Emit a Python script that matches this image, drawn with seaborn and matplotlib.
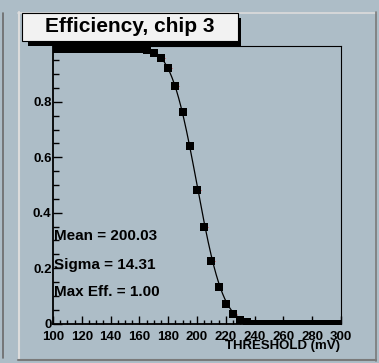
import math
import numpy as np
import matplotlib
matplotlib.use("Agg")
import matplotlib.pyplot as plt
from matplotlib.patches import Rectangle
from matplotlib.lines import Line2D
from matplotlib.ticker import MultipleLocator
import seaborn as sns

# Threshold scan for chip 3: efficiency per threshold step
threshold_mv = [100, 105, 110, 115, 120, 125, 130, 135, 140, 145, 150, 155, 160,
                165, 170, 175, 180, 185, 190, 195, 200, 205, 210, 215, 220, 225,
                230, 235, 240, 245, 250, 255, 260, 265, 270, 275, 280, 285, 290,
                295, 300]
efficiency = [0.99, 0.99, 0.99, 0.99, 0.99, 0.99, 0.99, 0.99, 0.99, 0.99, 0.99, 0.99, 0.99,
              0.988, 0.978, 0.959, 0.924, 0.859, 0.765, 0.639, 0.483, 0.347, 0.224, 0.131,
              0.069, 0.034, 0.013, 0.004, 0.0, 0.0, 0.0, 0.0, 0.0, 0.0, 0.0, 0.0,
              0.0, 0.0, 0.0, 0.0, 0.0]

# Error-function fit parameters
fit_mean = 200.03
fit_sigma = 14.31
fit_max_eff = 1.00

title_text = "Efficiency, chip 3"
x_label = "THRESHOLD (mV)"
x_ticks = [100, 120, 140, 160, 180, 200, 220, 240, 260, 280, 300]
y_ticks = [0, 0.2, 0.4, 0.6, 0.8]
y_tick_labels = ["0", "0.2", "0.4", "0.6", "0.8"]

W, H = 379, 363
BG = "#adbdc7"

sns.set_style("ticks")
plt.rcParams["font.family"] = ["Liberation Sans", "DejaVu Sans"]
plt.rcParams["font.weight"] = "bold"

fig = plt.figure(figsize=(W / 100, H / 100), dpi=100, facecolor=BG)


def fx(x):
    return x / W


def fy(y):
    return 1 - y / H


# plot frame in pixel coordinates (left, top, right, bottom)
L, T, R, B = 53, 46.5, 341, 323.5
ax = fig.add_axes([fx(L), fy(B), (R - L) / W, (B - T) / H])
ax.set_facecolor("none")

# fitted curve
xs = np.linspace(100, 300, 400)
fit = np.array([0.5 * fit_max_eff * math.erfc((v - fit_mean) / (math.sqrt(2) * fit_sigma)) for v in xs])
sns.lineplot(x=xs, y=fit, ax=ax, color="black", linewidth=0.9, zorder=2)

# bin-width error bars and markers
ax.errorbar(threshold_mv, efficiency, xerr=2.5, fmt="none", ecolor="red",
            elinewidth=0.5, capsize=0, zorder=3)
sns.scatterplot(x=threshold_mv, y=efficiency, ax=ax, marker="s", s=28,
                color="black", linewidth=0, zorder=4)

ax.set_xlim(100, 300)
ax.set_ylim(0, 1.0)
ax.set_xticks(x_ticks)
ax.set_xticklabels([str(t) for t in x_ticks])
ax.set_yticks(y_ticks)
ax.set_yticklabels(y_tick_labels)
ax.xaxis.set_minor_locator(MultipleLocator(5))
ax.yaxis.set_minor_locator(MultipleLocator(0.05))
ax.tick_params(axis="both", which="both", direction="in", colors="black",
               labelsize=9.5, width=1.0)
ax.tick_params(axis="x", which="major", length=6, pad=5.5)
ax.tick_params(axis="x", which="minor", length=3)
ax.tick_params(axis="y", which="major", length=6.5, pad=1)
ax.tick_params(axis="y", which="minor", length=4)
ax.tick_params(top=False, right=False, which="both")
for lbl in ax.get_xticklabels() + ax.get_yticklabels():
    lbl.set_fontweight("bold")
ax.set_xlabel("")
ax.set_ylabel("")
for side in ["left", "bottom"]:
    ax.spines[side].set_linewidth(1.3)
for side in ["right", "top"]:
    ax.spines[side].set_linewidth(0.8)
for s in ax.spines.values():
    s.set_color("black")

fig.text(fx(340), fy(346), x_label, ha="right", va="center", fontsize=9.5,
         fontweight="bold", color="black")

# fit statistics
stats = [("Mean = %.2f" % fit_mean, 236.5),
         ("Sigma = %.2f" % fit_sigma, 265),
         ("Max Eff. = %.2f" % fit_max_eff, 292)]
for txt, ypix in stats:
    fig.text(fx(54), fy(ypix), txt, ha="left", va="center", fontsize=11,
             fontweight="bold", color="black", zorder=6)

# pad border
light, dark = "#dcdcdc", "#7a7a7a"
fig.add_artist(Line2D([fx(18), fx(376)], [fy(12.5), fy(12.5)], color=light, lw=1.2))
fig.add_artist(Line2D([fx(18.5), fx(18.5)], [fy(12), fy(360)], color=light, lw=1.5))
fig.add_artist(Line2D([fx(375.5), fx(375.5)], [fy(12), fy(360.5)], color=dark, lw=1.2))
fig.add_artist(Line2D([fx(18), fx(376)], [fy(360), fy(360)], color=dark, lw=1.5))
fig.add_artist(Line2D([fx(2.7), fx(2.7)], [fy(13), fy(358)], color="#6a6a6a", lw=1.2))

# title box with shadow
fig.add_artist(Rectangle((fx(28), fy(46)), fx(241) - fx(28), fy(18) - fy(46),
                         facecolor="black", edgecolor="none", zorder=5))
fig.add_artist(Rectangle((fx(22), fy(41)), fx(238) - fx(22), fy(13) - fy(41),
                         facecolor="#f2f2f2", edgecolor="black", linewidth=0.8, zorder=5))
fig.text(fx(130), fy(27), title_text, ha="center", va="center", fontsize=15,
         fontweight="bold", color="black", zorder=6)

fig.savefig("out.png", dpi=100, facecolor=BG)
